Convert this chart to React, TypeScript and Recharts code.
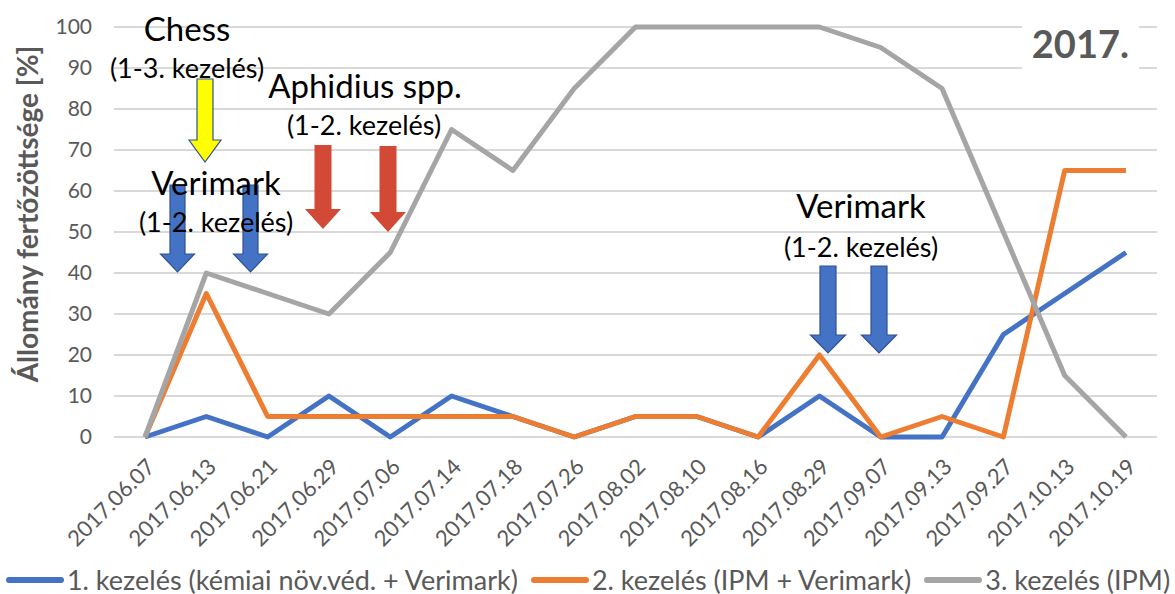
import React from 'react'
import {
  LineChart,
  Line,
  XAxis,
  YAxis,
  CartesianGrid,
  Legend,
} from 'recharts'

const dates = [
  '2017.06.07', '2017.06.13', '2017.06.21', '2017.06.29', '2017.07.06',
  '2017.07.14', '2017.07.18', '2017.07.26', '2017.08.02', '2017.08.10',
  '2017.08.16', '2017.08.29', '2017.09.07', '2017.09.13', '2017.09.27',
  '2017.10.13', '2017.10.19',
]
const kezeles1 = [0, 5, 0, 10, 0, 10, 5, 0, 5, 5, 0, 10, 0, 0, 25, 35, 45]
const kezeles2 = [0, 35, 5, 5, 5, 5, 5, 0, 5, 5, 0, 20, 0, 5, 0, 65, 65]
const kezeles3 = [0, 40, 35, 30, 45, 75, 65, 85, 100, 100, 100, 100, 95, 85, 50, 15, 0]
const yTicks = [0, 10, 20, 30, 40, 50, 60, 70, 80, 90, 100]

const seriesNames = [
  '1. kezelés (kémiai növ.véd. + Verimark)',
  '2. kezelés (IPM + Verimark)',
  '3. kezelés (IPM)',
]
const colors = ['#4472C4', '#ED7D31', '#A5A5A5']

const FONT = 'Lato, "Noto Sans", sans-serif'
const TEXT = '#595959'

const chartData = dates.map((d, i) => ({
  date: d,
  k1: kezeles1[i],
  k2: kezeles2[i],
  k3: kezeles3[i],
}))

const XTick = (props: any) => {
  const { x, y, payload } = props
  return (
    <g transform={`translate(${x + 7},${y + 19})`}>
      <text
        transform='rotate(-45)'
        textAnchor='end'
        fill={TEXT}
        fontSize={22}
        fontFamily={FONT}
        dy={6}
      >
        {payload.value}
      </text>
    </g>
  )
}

const YTitle = (props: any) => {
  const { viewBox } = props
  const cy = viewBox ? viewBox.y + viewBox.height / 2 - 18 : 214
  return (
    <text
      transform={`translate(38,${cy}) rotate(-90)`}
      textAnchor='middle'
      fill={TEXT}
      fontSize={28}
      fontWeight='bold'
      fontFamily={FONT}
    >
      Állomány fertőzöttsége [%]
    </text>
  )
}

const renderLegend = () => (
  <div
    style={{
      display: 'flex',
      justifyContent: 'center',
      alignItems: 'center',
      fontFamily: FONT,
      fontSize: 27,
      lineHeight: '27px',
      color: TEXT,
      whiteSpace: 'nowrap',
      paddingTop: 17,
      paddingLeft: 18,
    }}
  >
    {seriesNames.map((n, i) => (
      <span key={n} style={{ display: 'flex', alignItems: 'center', marginRight: i < 2 ? 12 : 0 }}>
        <svg width={60} height={10} style={{ marginRight: 2 }}>
          <line x1={4} y1={5} x2={56} y2={5} stroke={colors[i]} strokeWidth={6} strokeLinecap='round' />
        </svg>
        {n}
      </span>
    ))}
  </div>
)

// block arrow pointing down
const arrowPts = (cx: number, top: number, tip: number, shaft: number, head: number, headH: number) => {
  const s = shaft / 2
  const h = head / 2
  const b = tip - headH
  return `${cx - s},${top} ${cx + s},${top} ${cx + s},${b} ${cx + h},${b} ${cx},${tip} ${cx - h},${b} ${cx - s},${b}`
}

const Annotations = () => (
  <svg
    width={1175}
    height={594}
    style={{ position: 'absolute', left: 0, top: 0, pointerEvents: 'none' }}
    fontFamily={FONT}
  >
    <rect x={1022} y={18} width={117} height={58} fill='#fff' />
    <text x={1129} y={58} textAnchor='end' fontSize={38} fontWeight='bold' fill='#595959'>
      2017.
    </text>

    <text x={187} y={41} textAnchor='middle' fontSize={33} fill='#000'>Chess</text>
    <text x={187} y={78} textAnchor='middle' fontSize={27} fill='#000'>(1-3. kezelés)</text>
    <polygon points={arrowPts(205, 79, 162, 16, 32, 22)} fill='#FFFF00' stroke='#2F528F' strokeWidth={1.2} />

    <text x={365} y={98} textAnchor='middle' fontSize={33} fill='#000'>Aphidius spp.</text>
    <text x={364} y={135} textAnchor='middle' fontSize={27} fill='#000'>(1-2. kezelés)</text>
    <polygon points={arrowPts(323, 145, 229, 17, 36, 20)} fill='#D24A35' />
    <polygon points={arrowPts(388, 146, 232, 17, 36, 20)} fill='#D24A35' />

    <polygon points={arrowPts(177.5, 185, 272, 15, 34, 18)} fill='#4472C4' stroke='#2F528F' strokeWidth={1.2} />
    <polygon points={arrowPts(250.5, 185, 272, 15, 34, 18)} fill='#4472C4' stroke='#2F528F' strokeWidth={1.2} />
    <text x={216} y={195} textAnchor='middle' fontSize={33} fill='#000'>Verimark</text>
    <text x={216} y={232} textAnchor='middle' fontSize={27} fill='#000'>(1-2. kezelés)</text>

    <text x={861} y={218} textAnchor='middle' fontSize={33} fill='#000'>Verimark</text>
    <text x={861} y={257} textAnchor='middle' fontSize={27} fill='#000'>(1-2. kezelés)</text>
    <polygon points={arrowPts(828, 266, 353, 16, 35, 18)} fill='#4472C4' stroke='#2F528F' strokeWidth={1.2} />
    <polygon points={arrowPts(879, 266, 353, 16, 35, 18)} fill='#4472C4' stroke='#2F528F' strokeWidth={1.2} />
  </svg>
)

export default function App() {
  return (
    <div style={{ position: 'absolute', left: 0, top: 0, width: 1175, height: 594, background: '#fff' }}>
      <LineChart
        width={1175}
        height={594}
        data={chartData}
        margin={{ top: 27, right: 18, left: 0, bottom: 0 }}
      >
        <CartesianGrid vertical={false} stroke='#D9D9D9' strokeWidth={2} />
        <XAxis
          dataKey='date'
          interval={0}
          tick={<XTick />}
          tickLine={false}
          axisLine={false}
          height={112}
          padding={{ left: 31, right: 31 }}
        />
        <YAxis
          domain={[0, 100]}
          ticks={yTicks}
          interval={0}
          width={114}
          tickLine={false}
          axisLine={false}
          tick={{ fill: TEXT, fontSize: 21, fontFamily: FONT }}
          tickMargin={16}
          label={<YTitle />}
        />
        <Legend verticalAlign='bottom' height={45} content={renderLegend} />
        <Line dataKey='k1' name={seriesNames[0]} stroke={colors[0]} strokeWidth={5} dot={false} isAnimationActive={false} strokeLinejoin='round' />
        <Line dataKey='k2' name={seriesNames[1]} stroke={colors[1]} strokeWidth={5} dot={false} isAnimationActive={false} strokeLinejoin='round' />
        <Line dataKey='k3' name={seriesNames[2]} stroke={colors[2]} strokeWidth={5} dot={false} isAnimationActive={false} strokeLinejoin='round' />
      </LineChart>
      <Annotations />
    </div>
  )
}
